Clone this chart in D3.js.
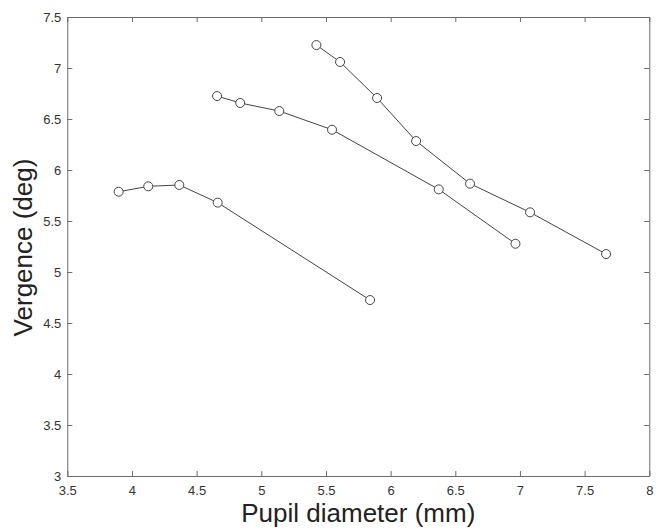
<!DOCTYPE html>
<html><head><meta charset="utf-8">
<script src="https://cdn.jsdelivr.net/npm/d3@7"></script>
<style>body{margin:0;background:#fff}svg{display:block}</style>
</head><body>
<script>
const seriesA_x = [3.897, 4.126, 4.366, 4.663, 5.841];
const seriesA_y = [5.787, 5.84, 5.853, 5.68, 4.725];
const seriesB_x = [4.658, 4.837, 5.139, 5.547, 6.372, 6.965];
const seriesB_y = [6.725, 6.657, 6.578, 6.395, 5.81, 5.277];
const seriesC_x = [5.426, 5.609, 5.895, 6.197, 6.614, 7.078, 7.666];
const seriesC_y = [7.225, 7.059, 6.706, 6.284, 5.866, 5.585, 5.176];
const xTicks = [3.5, 4, 4.5, 5, 5.5, 6, 6.5, 7, 7.5, 8];
const yTicks = [3, 3.5, 4, 4.5, 5, 5.5, 6, 6.5, 7, 7.5];
const xLabel = "Pupil diameter (mm)";
const yLabel = "Vergence (deg)";

const W = 657, H = 528;
const m = {l: 67.3, r: 657 - 649.3, t: 17, b: 528 - 476};
const svg = d3.select("body").append("svg").attr("width", W).attr("height", H);
const x = d3.scaleLinear().domain([3.5, 8]).range([m.l, W - m.r]);
const y = d3.scaleLinear().domain([3, 7.5]).range([H - m.b, m.t]);
const axisColor = "#6b6b6b", textColor = "#333";
const font = "Liberation Sans, Arial, sans-serif";
const fmt = d => String(d);

function styleAxis(g, hideText) {
  g.select(".domain").attr("stroke", axisColor);
  g.selectAll(".tick line").attr("stroke", axisColor);
  g.selectAll(".tick text").attr("fill", textColor).style("font-family", font).style("font-size", "13px");
  if (hideText) g.selectAll(".tick text").remove();
}
styleAxis(svg.append("g").attr("transform", `translate(0,${H - m.b})`)
  .call(d3.axisBottom(x).tickValues(xTicks).tickFormat(fmt).tickSizeInner(-5).tickSizeOuter(0).tickPadding(10)));
styleAxis(svg.append("g").attr("transform", `translate(0,${m.t})`)
  .call(d3.axisTop(x).tickValues(xTicks).tickSizeInner(-5).tickSizeOuter(0)), true);
styleAxis(svg.append("g").attr("transform", `translate(${m.l},0)`)
  .call(d3.axisLeft(y).tickValues(yTicks).tickFormat(fmt).tickSizeInner(-5).tickSizeOuter(0).tickPadding(6)));
styleAxis(svg.append("g").attr("transform", `translate(${W - m.r},0)`)
  .call(d3.axisRight(y).tickValues(yTicks).tickSizeInner(-5).tickSizeOuter(0)), true);

const series = [[seriesA_x, seriesA_y], [seriesB_x, seriesB_y], [seriesC_x, seriesC_y]];
const line = d3.line().x(d => x(d[0])).y(d => y(d[1]));
series.forEach(([xs, ys]) => {
  const pts = xs.map((v, i) => [v, ys[i]]);
  svg.append("path").datum(pts).attr("d", line).attr("fill", "none").attr("stroke", "#444").attr("stroke-width", 1);
  svg.append("g").selectAll("circle").data(pts).join("circle")
    .attr("cx", d => x(d[0])).attr("cy", d => y(d[1])).attr("r", 4.5)
    .attr("fill", "#fff").attr("stroke", "#444").attr("stroke-width", 1);
});

svg.append("text").attr("x", (m.l + W - m.r) / 2).attr("y", 522).attr("text-anchor", "middle")
  .style("font-family", font).style("font-size", "26px").attr("fill", "#222").text(xLabel);
svg.append("text").attr("transform", `translate(32,${(m.t + H - m.b) / 2 + 1}) rotate(-90)`).attr("text-anchor", "middle")
  .style("font-family", font).style("font-size", "26px").attr("fill", "#222").text(yLabel);
</script>
</body></html>
